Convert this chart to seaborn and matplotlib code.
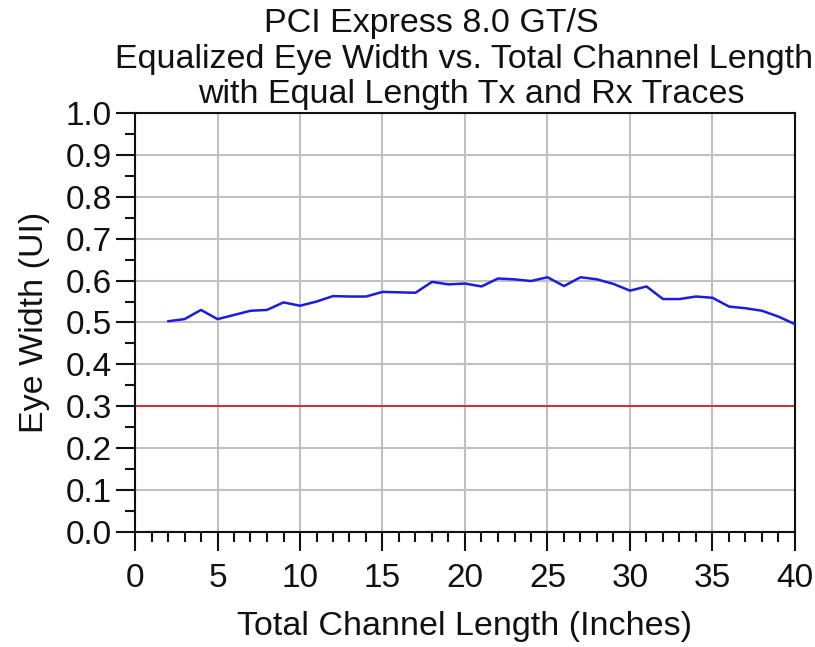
import matplotlib
matplotlib.use("Agg")
import matplotlib.pyplot as plt
import seaborn as sns
import pandas as pd
from matplotlib.ticker import MultipleLocator

# channel length (inches) and equalized eye width (UI)
lengths = [2, 3, 4, 5, 6, 7, 8, 9, 10, 11, 12, 13, 14, 15, 16, 17, 18, 19, 20, 21,
           22, 23, 24, 25, 26, 27, 28, 29, 30, 31, 32, 33, 34, 35, 36, 37, 38, 39, 40]
eye_width = [0.503, 0.508, 0.530, 0.508, 0.518, 0.528, 0.530, 0.548, 0.540, 0.550,
             0.563, 0.562, 0.562, 0.573, 0.572, 0.571, 0.597, 0.591, 0.593, 0.586,
             0.605, 0.603, 0.599, 0.608, 0.587, 0.608, 0.603, 0.592, 0.576, 0.586,
             0.556, 0.556, 0.562, 0.559, 0.538, 0.534, 0.528, 0.514, 0.496]
limit_width = 0.3

title_lines = ["PCI Express 8.0 GT/S",
               "Equalized Eye Width vs. Total Channel Length",
               "with Equal Length Tx and Rx Traces"]

sns.set_theme(style="white")
plt.rcParams["font.family"] = ["Liberation Sans", "DejaVu Sans"]

W, H = 815, 647
fig = plt.figure(figsize=(W / 100, H / 100), dpi=100)
ax = fig.add_axes([135 / W, 1 - 532 / H, 660 / W, 419 / H])

data = pd.DataFrame({"length": lengths, "width": eye_width})
ax.axhline(limit_width, color="#e01010", linewidth=1.2, zorder=2)
sns.lineplot(data=data, x="length", y="width", ax=ax, color="#1c1ce0",
             linewidth=1.8, zorder=3)

ax.set_xlim(0, 40)
ax.set_ylim(0, 1.0)
ax.xaxis.set_major_locator(MultipleLocator(5))
ax.xaxis.set_minor_locator(MultipleLocator(1))
ax.yaxis.set_major_locator(MultipleLocator(0.1))
ax.yaxis.set_minor_locator(MultipleLocator(0.05))
ax.yaxis.set_major_formatter(plt.FuncFormatter(lambda v, p: f"{v:.1f}"))

ax.grid(True, which="major", color="#c0c0c0", linewidth=1.5, zorder=0)
ax.set_axisbelow(True)
for s in ax.spines.values():
    s.set_color("#111111")
    s.set_linewidth(1.5)

ax.tick_params(axis="both", which="major", direction="out", length=13.5, width=1.5,
               color="#111111", labelsize=24, labelcolor="#111111")
ax.tick_params(axis="both", which="minor", direction="out", length=7, width=1.5,
               color="#111111")
ax.tick_params(axis="x", which="major", pad=9)
ax.tick_params(axis="y", which="major", pad=3)
ax.tick_params(bottom=True, left=True, which="both")

ax.set_xlabel("Total Channel Length (Inches)", fontsize=24.5, color="#111111")
ax.set_ylabel("Eye Width (UI)", fontsize=24.5, color="#111111")
ax.xaxis.label.set_verticalalignment("baseline")
ax.xaxis.set_label_coords(0.5, (532 - 635) / 419)
ax.yaxis.label.set_verticalalignment("baseline")
ax.yaxis.label.set_rotation_mode("anchor")
ax.yaxis.set_label_coords((43 - 135) / 660, 0.5)

for text, cx, base in zip(title_lines, [431, 464, 471], [32, 68, 103]):
    fig.text(cx / W, 1 - base / H, text, ha="center", va="baseline",
             fontsize=24.5, color="#111111")

fig.savefig("out.png", dpi=100)
